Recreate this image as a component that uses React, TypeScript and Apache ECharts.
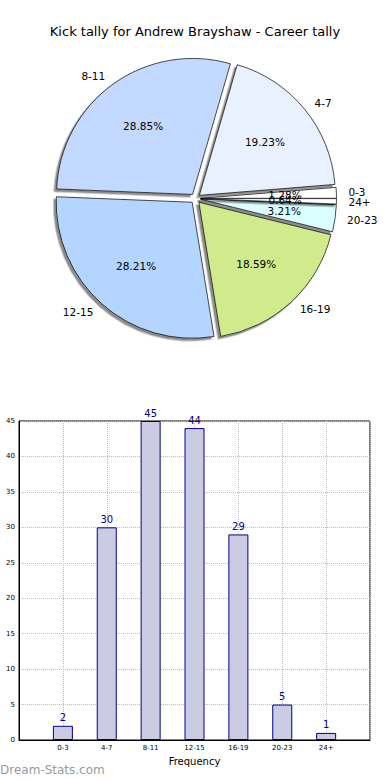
import React, { useEffect, useRef } from "react";
import * as echarts from "echarts";

const categories = ["0-3", "4-7", "8-11", "12-15", "16-19", "20-23", "24+"];
const tally = [2, 30, 45, 44, 29, 5, 1];
const sliceColors = ["#ffffff", "#eaf1fe", "#c4d9ff", "#b3d5ff", "#d0ea8c", "#dbffff", "#ffffff"];
const titleText = "Kick tally for Andrew Brayshaw - Career tally";
const xAxisName = "Frequency";
const watermark = "Dream-Stats.com";

const FONT = "DejaVu Sans";

export default function App() {
  const ref = useRef<HTMLDivElement>(null);
  useEffect(() => {
    document.body.style.margin = "0";
    if (!ref.current) return;
    const chart = echarts.init(ref.current, undefined, { renderer: "svg" });
    const total = tally.reduce((a, b) => a + b, 0);
    const center = [195.5, 198.5];
    const R = 136;
    const pieData = categories.map((c, i) => ({
      name: c,
      value: tally[i],
      selected: true,
      itemStyle: { color: sliceColors[i] },
    }));
    const pctData = categories.map((c, i) => ({ name: c, value: tally[i], selected: true }));
    chart.setOption({
      animation: false,
      title: {
        text: titleText,
        left: "center",
        top: 20,
        textStyle: { fontFamily: FONT, fontSize: 13, fontWeight: "normal", color: "#000" },
      },
      grid: {
        left: 19,
        right: 20,
        top: 421,
        bottom: 40,
        show: true,
        borderColor: "#000",
        borderWidth: 1,
        backgroundColor: "transparent",
      },
      xAxis: {
        type: "value",
        min: -1,
        max: 7,
        interval: 1,
        name: xAxisName,
        nameLocation: "middle",
        nameGap: 16,
        nameTextStyle: { fontFamily: FONT, fontSize: 10, color: "#000" },
        axisLine: { show: true, onZero: false, lineStyle: { color: "#000", width: 1 } },
        axisTick: { show: false },
        axisLabel: {
          fontFamily: FONT,
          fontSize: 7,
          color: "#000",
          margin: 4,
          formatter: (v: number) => categories[v] ?? "",
        },
        splitLine: { show: true, lineStyle: { color: "#bdbdbd", type: "dotted", width: 1 } },
      },
      yAxis: {
        type: "value",
        min: 0,
        max: 45,
        interval: 5,
        axisLine: { show: true, onZero: false, lineStyle: { color: "#000", width: 1 } },
        axisTick: { show: false },
        axisLabel: { fontFamily: FONT, fontSize: 7, color: "#000", margin: 4 },
        splitLine: { show: true, lineStyle: { color: "#bdbdbd", type: "dotted", width: 1 } },
      },
      series: [
        {
          type: "pie",
          center,
          radius: R,
          startAngle: 0,
          clockwise: false,
          selectedMode: "multiple",
          selectedOffset: 5,
          avoidLabelOverlap: false,
          minShowLabelAngle: 0,
          labelLayout: { hideOverlap: false },
          emphasis: { disabled: true },
          data: pieData,
          itemStyle: {
            borderColor: "#000",
            borderWidth: 0.7,
            shadowColor: "rgba(0,0,0,0.45)",
            shadowOffsetX: -2.5,
            shadowOffsetY: 2.5,
            shadowBlur: 0,
          },
          label: {
            show: true,
            position: "outside",
            formatter: "{b}",
            fontFamily: FONT,
            fontSize: 10.5,
            color: "#000",
            distanceToLabelLine: 2,
            overflow: "none",
          },
          labelLine: { show: false, length: 10, length2: 0 },
          z: 2,
        },
        {
          type: "pie",
          center,
          radius: R * 1.2,
          startAngle: 0,
          clockwise: false,
          selectedMode: "multiple",
          selectedOffset: 5,
          avoidLabelOverlap: false,
          minShowLabelAngle: 0,
          labelLayout: { hideOverlap: false },
          silent: true,
          emphasis: { disabled: true },
          data: pctData,
          itemStyle: { color: "rgba(0,0,0,0)", borderWidth: 0 },
          label: {
            show: true,
            position: "inside",
            formatter: (p: any) => ((p.value / total) * 100).toFixed(2) + "%",
            fontFamily: FONT,
            fontSize: 10.5,
            color: "#000",
            overflow: "none",
          },
          labelLine: { show: false },
          z: 3,
        },
        {
          type: "bar",
          data: tally.map((v, i) => [i, v]),
          barWidth: 20,
          itemStyle: { color: "#cbcbe4", borderColor: "#00008b", borderWidth: 1 },
          label: {
            show: true,
            position: "top",
            distance: 3,
            fontFamily: FONT,
            fontSize: 10,
            color: "#00008b",
          },
          emphasis: { disabled: true },
        },
      ],
      graphic: [
        {
          type: "text",
          left: 0,
          top: 764,
          style: { text: watermark, fill: "#9a9a9a", font: `12px ${FONT}` },
        },
      ],
    });
    return () => chart.dispose();
  }, []);
  return <div ref={ref} style={{ width: 390, height: 780 }} />;
}
